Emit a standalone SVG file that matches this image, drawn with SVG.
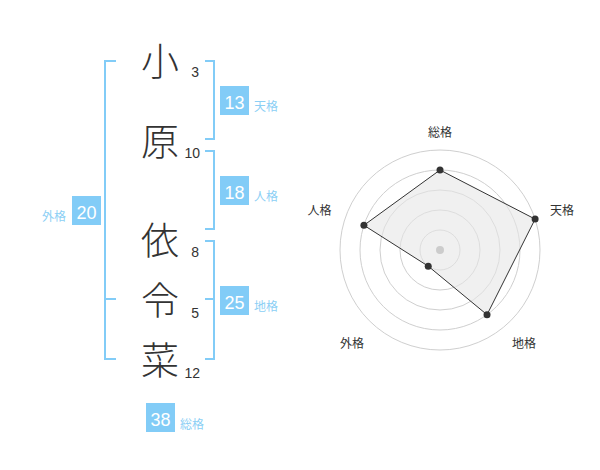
<svg xmlns="http://www.w3.org/2000/svg" width="600" height="470" viewBox="0 0 600 470">
<style>
.k{font-family:"Noto Sans CJK JP","Noto Sans",sans-serif;font-size:38px;font-weight:300;fill:#333;text-anchor:middle}
.n{font-family:"Liberation Sans",Arial,sans-serif;font-size:14px;fill:#333;text-anchor:end}
.bx{fill:#82ccf7}
.bn{font-family:"Liberation Sans",Arial,sans-serif;font-size:18px;fill:#fff;text-anchor:middle}
.lb{font-family:"Noto Sans CJK JP","Noto Sans",sans-serif;font-size:12px;fill:#8ccff5}
.br{fill:none;stroke:#82ccf7;stroke-width:2}
.rc{fill:none;stroke:#cfcfcf;stroke-width:1}
.rl{font-family:"Noto Sans CJK JP","Noto Sans",sans-serif;font-size:12px;fill:#333;text-anchor:middle}
</style>
<rect width="600" height="470" fill="#fff"/>
<g id="name">
<text class="k" x="160" y="75">小</text>
<text class="k" x="160" y="155">原</text>
<text class="k" x="160" y="254">依</text>
<text class="k" x="160" y="314">令</text>
<text class="k" x="160" y="374">菜</text>
<text class="n" x="199" y="77">3</text>
<text class="n" x="200" y="158">10</text>
<text class="n" x="199" y="257">8</text>
<text class="n" x="199" y="318">5</text>
<text class="n" x="200" y="378">12</text>
</g>
<g id="connectors">
<path class="br" d="M116,61 H105 V359 H116 M105,299 H116"/>
<path class="br" d="M205,61 H214 V139 H205"/>
<path class="br" d="M205,151 H214 V229 H205"/>
<path class="br" d="M205,241 H214 V359 H205 M214,299 H205"/>
</g>
<g id="tenkaku">
<rect class="bx" x="220" y="86" width="29" height="29"/>
<text class="bn" x="234.5" y="108.5">13</text>
<text class="lb" x="254" y="111">天格</text>
</g>
<g id="jinkaku">
<rect class="bx" x="220" y="176" width="29" height="29"/>
<text class="bn" x="234.5" y="198.5">18</text>
<text class="lb" x="254" y="201">人格</text>
</g>
<g id="chikaku">
<rect class="bx" x="220" y="286" width="29" height="29"/>
<text class="bn" x="234.5" y="308.5">25</text>
<text class="lb" x="254" y="311">地格</text>
</g>
<g id="gaikaku">
<rect class="bx" x="72" y="196" width="29" height="29"/>
<text class="bn" x="86.5" y="218.5">20</text>
<text class="lb" x="66" y="221" text-anchor="end">外格</text>
</g>
<g id="soukaku">
<rect class="bx" x="146" y="403" width="29" height="29"/>
<text class="bn" x="160.5" y="425.5">38</text>
<text class="lb" x="180" y="429">総格</text>
</g>
<g id="radar">
<circle class="rc" cx="440" cy="250" r="20"/>
<circle class="rc" cx="440" cy="250" r="40"/>
<circle class="rc" cx="440" cy="250" r="60"/>
<circle class="rc" cx="440" cy="250" r="80"/>
<circle class="rc" cx="440" cy="250" r="100"/>
<polygon points="440,170 535.11,219.1 487.02,314.72 428.24,266.18 363.92,225.28" fill="#e6e6e6" fill-opacity="0.6" stroke="#333" stroke-width="1"/>
<circle cx="440" cy="250" r="4" fill="#ccc"/>
<g fill="#333">
<circle cx="440" cy="170" r="3.5"/>
<circle cx="535.11" cy="219.1" r="3.5"/>
<circle cx="487.02" cy="314.72" r="3.5"/>
<circle cx="428.24" cy="266.18" r="3.5"/>
<circle cx="363.92" cy="225.28" r="3.5"/>
</g>
<text class="rl" x="440" y="137">総格</text>
<text class="rl" x="562" y="215">天格</text>
<text class="rl" x="524" y="348">地格</text>
<text class="rl" x="352" y="348">外格</text>
<text class="rl" x="319.5" y="215">人格</text>
</g>
</svg>
